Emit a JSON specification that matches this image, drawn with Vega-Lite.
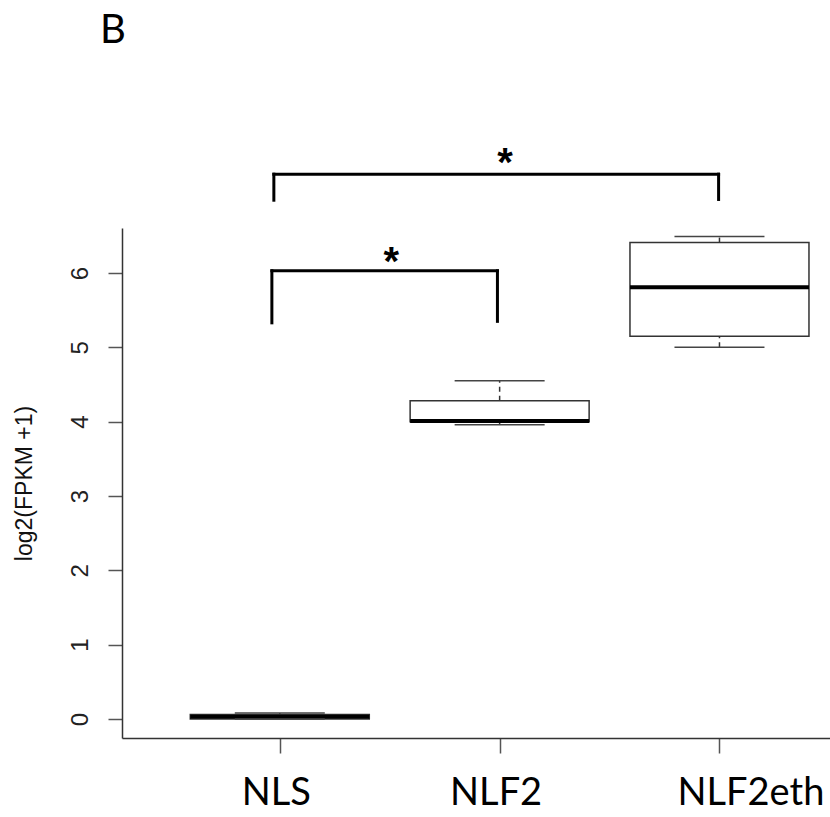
{
  "$schema": "https://vega.github.io/schema/vega-lite/v6.json",
  "width": 708,
  "height": 510,
  "autosize": "none",
  "padding": {"left": 122, "top": 228, "right": 0, "bottom": 79},
  "background": "white",
  "title": {"text": "B", "anchor": "start", "frame": "group", "offset": 93, "dx": -22, "font": "Lato", "fontSize": 40, "fontWeight": "normal", "color": "black"},
  "config": {"view": {"stroke": null}, "font": "Liberation Sans"},
  "datasets": {
    "boxes": [
      {"group": "NLS", "pos": 1, "min": 0.0, "q1": 0.0, "median": 0.03, "q3": 0.06, "max": 0.08},
      {"group": "NLF2", "pos": 2, "min": 3.96, "q1": 4.0, "median": 4.01, "q3": 4.28, "max": 4.55},
      {"group": "NLF2eth", "pos": 3, "min": 5.0, "q1": 5.15, "median": 5.81, "q3": 6.41, "max": 6.49}
    ],
    "brackets": [
      {"x1": 0.973, "x2": 2.996, "y1": 7.33, "y2": 7.33},
      {"x1": 0.973, "x2": 0.973, "y1": 7.33, "y2": 6.98},
      {"x1": 2.996, "x2": 2.996, "y1": 7.33, "y2": 6.99},
      {"x1": 0.964, "x2": 1.99, "y1": 6.03, "y2": 6.03},
      {"x1": 0.964, "x2": 0.964, "y1": 6.03, "y2": 5.33},
      {"x1": 1.99, "x2": 1.99, "y1": 6.03, "y2": 5.35}
    ],
    "stars": [
      {"x": 2.025, "y": 7.31, "label": "*"},
      {"x": 1.507, "y": 5.97, "label": "*"}
    ]
  },
  "layer": [
    {
      "data": {"name": "boxes"},
      "mark": {"type": "rule", "color": "#333", "strokeWidth": 1.5, "strokeDash": [5, 4]},
      "encoding": {
        "x": {"field": "pos", "type": "quantitative",
          "scale": {"domain": [0.305, 3.48], "nice": false, "zero": false},
          "axis": {"values": [1, 2, 3], "title": null, "grid": false,
            "labelExpr": "datum.value == 1 ? 'NLS' : datum.value == 2 ? 'NLF2' : 'NLF2eth'",
            "labelFont": "Lato", "labelFontSize": 38, "labelColor": "black",
            "labelPadding": 21, "tickSize": 15, "tickColor": "#555", "tickWidth": 1.5,
            "domainColor": "#333", "domainWidth": 1.5,
            "labelOffset": {"condition": {"test": "datum.value == 3", "value": 31}, "value": -4}}},
        "y": {"field": "q3", "type": "quantitative",
          "scale": {"domain": [-0.256, 6.606], "nice": false, "zero": false},
          "axis": {"values": [0, 1, 2, 3, 4, 5, 6], "format": "d", "title": "log2(FPKM +1)", "grid": false,
            "labelAngle": -90, "labelAlign": "center", "labelBaseline": "middle",
            "labelFont": "Liberation Sans", "labelFontSize": 24, "labelColor": "#222",
            "labelPadding": 28, "tickSize": 14, "tickColor": "#555", "tickWidth": 1.5,
            "domainColor": "#333", "domainWidth": 1.5,
            "titleFont": "Liberation Sans", "titleFontSize": 23, "titleFontWeight": "normal", "titleColor": "#111",
            "titlePadding": 32}},
        "y2": {"field": "max"}
      }
    },
    {
      "data": {"name": "boxes"},
      "mark": {"type": "rule", "color": "#333", "strokeWidth": 1.5, "strokeDash": [5, 4]},
      "encoding": {
        "x": {"field": "pos", "type": "quantitative"},
        "y": {"field": "min", "type": "quantitative"},
        "y2": {"field": "q1"}
      }
    },
    {
      "data": {"name": "boxes"},
      "mark": {"type": "bar", "size": 179, "fill": "white", "stroke": "#333", "strokeWidth": 1.5},
      "encoding": {
        "x": {"field": "pos", "type": "quantitative"},
        "y": {"field": "q1", "type": "quantitative"},
        "y2": {"field": "q3"}
      }
    },
    {
      "data": {"name": "boxes"},
      "mark": {"type": "tick", "orient": "horizontal", "size": 179, "thickness": 4, "color": "black", "opacity": 1},
      "encoding": {
        "x": {"field": "pos", "type": "quantitative"},
        "y": {"field": "median", "type": "quantitative"}
      }
    },
    {
      "data": {"name": "boxes"},
      "mark": {"type": "tick", "orient": "horizontal", "size": 90, "thickness": 1.5, "color": "#444", "opacity": 1},
      "encoding": {
        "x": {"field": "pos", "type": "quantitative"},
        "y": {"field": "max", "type": "quantitative"}
      }
    },
    {
      "data": {"name": "boxes"},
      "mark": {"type": "tick", "orient": "horizontal", "size": 90, "thickness": 1.5, "color": "#444", "opacity": 1},
      "encoding": {
        "x": {"field": "pos", "type": "quantitative"},
        "y": {"field": "min", "type": "quantitative"}
      }
    },
    {
      "data": {"name": "brackets"},
      "mark": {"type": "rule", "color": "black", "strokeWidth": 3, "strokeCap": "square"},
      "encoding": {
        "x": {"field": "x1", "type": "quantitative"},
        "x2": {"field": "x2"},
        "y": {"field": "y1", "type": "quantitative"},
        "y2": {"field": "y2"}
      }
    },
    {
      "data": {"name": "stars"},
      "mark": {"type": "text", "font": "Liberation Sans", "fontWeight": "bold", "fontSize": 40, "color": "black", "baseline": "alphabetic", "align": "center"},
      "encoding": {
        "x": {"field": "x", "type": "quantitative"},
        "y": {"field": "y", "type": "quantitative"},
        "text": {"field": "label"}
      }
    }
  ]
}
